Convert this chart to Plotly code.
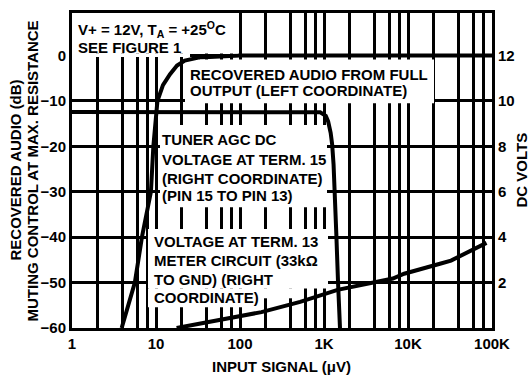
import plotly.graph_objects as go

# ---- data ----
x_ticks = [1, 10, 100, 1000, 10000, 100000]
x_tick_labels = ["1", "10", "100", "1K", "10K", "100K"]
x_grid_minor = [2, 4, 6, 8]

left_ticks = [-60, -50, -40, -30, -20, -10, 0]
right_ticks = [2, 4, 6, 8, 10, 12]

audio_x = [3.9, 5.6, 6.8, 8.7, 9.3, 10.4, 12.1, 14.7, 17.8, 22, 33, 60, 100, 100000]
audio_db = [-60, -50, -40, -30, -20, -10, -6.5, -4.1, -2.2, -1.1, -0.4, -0.1, 0, 0]

agc_x = [1, 600, 900, 1050, 1120, 1200, 1250, 1300, 1350, 1400, 1470, 1550]
agc_v = [9.52, 9.52, 9.5, 9.35, 9.1, 8.6, 8.1, 7.2, 6.0, 4.2, 2.0, 0]

meter_x = [17.6, 33, 58, 180, 520, 1450, 6600, 9000, 24000, 32500, 86000]
meter_v = [0, 0.2, 0.36, 0.7, 1.15, 1.68, 2.18, 2.39, 2.83, 2.97, 3.75]

# ---- layout geometry ----
W, H = 528, 375
L, R, T, B = 72, 492, 10, 328


def px(x):
    return (x - L) / (R - L)


def py(y):
    return (B - y) / (B - T)


TEXT_FONT = dict(family="Liberation Sans", size=15, color="black", weight=700)

grid_vals = []
grid_text = []
for d, lab in zip(x_ticks, x_tick_labels):
    grid_vals.append(d)
    grid_text.append(lab)
    if d < 100000:
        for m in x_grid_minor:
            grid_vals.append(d * m)
            grid_text.append("")

fig = go.Figure()
fig.add_trace(go.Scatter(x=audio_x, y=audio_db, mode="lines",
                         line=dict(color="black", width=4), yaxis="y"))
fig.add_trace(go.Scatter(x=agc_x, y=agc_v, mode="lines",
                         line=dict(color="black", width=4), yaxis="y2"))
fig.add_trace(go.Scatter(x=meter_x, y=meter_v, mode="lines",
                         line=dict(color="black", width=4), yaxis="y2"))

fig.update_layout(
    width=W, height=H,
    margin=dict(l=L, r=W - R, t=T, b=H - B),
    paper_bgcolor="white", plot_bgcolor="white",
    showlegend=False,
    font=TEXT_FONT,
    xaxis=dict(type="log", range=[0, 5], tickmode="array",
               tickvals=grid_vals, ticktext=grid_text,
               showgrid=True, gridcolor="black", gridwidth=2.5,
               showline=True, linecolor="black", linewidth=3, mirror=True,
               ticks="", tickfont=TEXT_FONT, zeroline=False),
    yaxis=dict(range=[-60, 9.38], tickmode="array", tickvals=left_ticks,
               showgrid=True, gridcolor="black", gridwidth=2.5,
               showline=True, linecolor="black", linewidth=3,
               ticks="", tickfont=TEXT_FONT, zeroline=False),
    yaxis2=dict(range=[0, 13.876], overlaying="y", side="right",
                tickmode="array", tickvals=right_ticks,
                showgrid=False, showline=True, linecolor="black", linewidth=3,
                ticks="", tickfont=TEXT_FONT, zeroline=False),
)

# white masks hiding the grid behind the text blocks (kept clear of the curves)
masks = [
    (L, 238, T, 51),
    (L, 190, 51, 54.5),
    (185, 200, 61, 101),
    (200, 434, 57, 101),
    (160, 327, 123, 206),
    (148, 328, 228, 288),
    (148, 262, 288, 307),
    (262, 292, 288, 298),
]
for x0, x1, y0, y1 in masks:
    fig.add_shape(type="rect", xref="paper", yref="paper",
                  x0=px(x0), x1=px(x1), y0=py(y1), y1=py(y0),
                  fillcolor="white", line=dict(width=0), layer="above")

text_lines = [
    ("V+ = 12V, T<sub>A</sub> = +25<sup>O</sup>C", 77, 27),
    ("SEE FIGURE 1", 77, 45),
    ("RECOVERED AUDIO FROM FULL", 189, 72),
    ("OUTPUT (LEFT COORDINATE)", 189, 88.5),
    ("TUNER AGC DC", 161, 138),
    ("VOLTAGE AT TERM. 15", 161, 158),
    ("(RIGHT COORDINATE)", 161, 177),
    ("(PIN 15 TO PIN 13)", 161, 194),
    ("VOLTAGE AT TERM. 13", 153, 241),
    ("METER CIRCUIT (33kΩ", 153, 260),
    ("TO GND) (RIGHT", 153, 279),
    ("COORDINATE)", 153, 297),
]
for txt, x, y in text_lines:
    fig.add_annotation(text=txt, xref="paper", yref="paper",
                       x=px(x), y=py(y), xanchor="left", yanchor="middle",
                       showarrow=False, borderpad=0, font=TEXT_FONT)

titles = [
    ("RECOVERED AUDIO (dB)", 15, 169, -90),
    ("MUTING CONTROL AT MAX. RESISTANCE", 32, 170, -90),
    ("DC VOLTS", 521, 169, -90),
    ("INPUT SIGNAL (μV)", 281, 367, 0),
]
for txt, x, y, ang in titles:
    fig.add_annotation(text=txt, xref="paper", yref="paper",
                       x=px(x), y=py(y), xanchor="center", yanchor="middle",
                       textangle=ang, showarrow=False, borderpad=0,
                       font=TEXT_FONT)

fig.write_html("out.html",
               config={"displayModeBar": False},
               post_script="document.body.style.margin='0';document.body.style.padding='0';")
